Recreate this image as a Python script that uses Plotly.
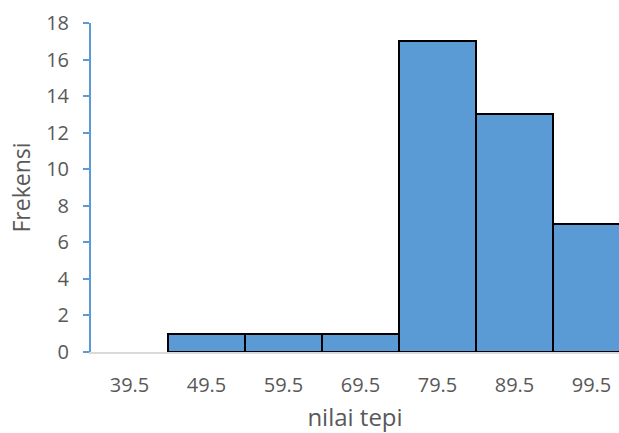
import plotly.graph_objects as go

categories = ["39.5", "49.5", "59.5", "69.5", "79.5", "89.5", "99.5"]
frequencies = [0, 1, 1, 1, 17, 13, 7]
y_ticks = [0, 2, 4, 6, 8, 10, 12, 14, 16, 18]

fig = go.Figure()
fig.add_trace(go.Bar(
    x=categories,
    y=frequencies,
    width=1,
    marker=dict(color="#5B9BD5",
                line=dict(color=["rgba(0,0,0,0)" if v == 0 else "#000000" for v in frequencies], width=2)),
))

font_family = "Open Sans, Noto Sans, sans-serif"
fig.update_layout(
    width=619, height=433,
    margin=dict(l=91, r=0, t=23, b=81, autoexpand=False),
    paper_bgcolor="white", plot_bgcolor="white",
    showlegend=False,
    bargap=0,
    font=dict(family=font_family, color="#595959", size=20),
    xaxis=dict(
        type="category",
        range=[-0.5, 6.357],
        automargin=False,
        showline=True, linecolor="#D9D9D9", linewidth=2,
        showgrid=False, ticks="",
        tickfont=dict(size=20, color="#595959"),
        ticklabelstandoff=14,
        title=dict(text="nilai tepi", font=dict(size=24, color="#595959"), standoff=18),
    ),
    yaxis=dict(
        range=[0, 18],
        tickvals=y_ticks,
        automargin=False,
        showline=True, linecolor="#5B9BD5", linewidth=2,
        ticks="outside", tickcolor="#5B9BD5", ticklen=6, tickwidth=2,
        showgrid=False, zeroline=False,
        tickfont=dict(size=20, color="#595959"),
        ticklabelstandoff=10,
        title=dict(text="Frekensi", font=dict(size=23, color="#595959"), standoff=9),
    ),
)

fig.write_html(
    "out.html",
    config={"displayModeBar": False},
    post_script="document.body.style.margin='0';document.body.style.overflow='hidden';",
)
